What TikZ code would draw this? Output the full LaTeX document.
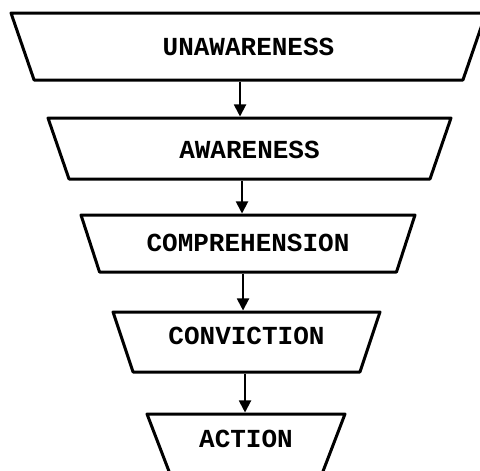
\documentclass[tikz,border=0pt]{standalone}
\usepackage{fontspec}
\newfontfamily\typewriter{Liberation Mono}
\usetikzlibrary{shapes.geometric,arrows.meta}

\tikzset{
  stage/.style={draw=black, line width=3pt, shape=trapezium,
    shape border rotate=180, trapezium stretches body,
    inner xsep=3pt, text height=19pt, text depth=0pt, line join=round,
    font=\typewriter\bfseries\fontsize{26}{28}\selectfont},
  flow/.style={draw=black, line width=1.9pt,
    -{Triangle[width=12pt,length=12pt]}}
}

\begin{document}
\begin{tikzpicture}[x=1pt,y=1pt]
  \useasboundingbox (0,0) rectangle (480,-471);
  \clip (0,0) rectangle (480,-471);

  % node height = text height + text depth + 2 * inner ysep;
  % a text depth lifts the label inside its box
  \node[stage, trapezium angle=71, inner ysep=24pt, minimum width=475pt]
    (unaware) at (248.5,-46.5) {UNAWARENESS};
  \node[stage, trapezium angle=71, inner ysep=21pt, minimum width=403pt]
    (aware) at (249.5,-148.5) {AWARENESS};
  \node[stage, trapezium angle=72, text depth=4pt, inner ysep=17pt, minimum width=334pt]
    (compr) at (248,-243.5) {COMPREHENSION};
  \node[stage, trapezium angle=71.5, text depth=14pt, inner ysep=13.5pt, minimum width=267pt]
    (convic) at (246.5,-342) {CONVICTION};
  \node[stage, trapezium angle=69, text depth=12pt, inner ysep=14pt, minimum width=198pt]
    (action) at (246,-443.5) {ACTION};

  \draw[flow] ([xshift=-8.5pt]unaware.south) -- ([xshift=-8.5pt]unaware.south |- aware.north);
  \draw[flow] ([xshift=-7.5pt]aware.south) -- ([xshift=-7.5pt]aware.south |- compr.north);
  \draw[flow] ([xshift=-5pt]compr.south) -- ([xshift=-5pt]compr.south |- convic.north);
  \draw[flow] ([xshift=-1.5pt]convic.south) -- ([xshift=-1.5pt]convic.south |- action.north);
\end{tikzpicture}
\end{document}
